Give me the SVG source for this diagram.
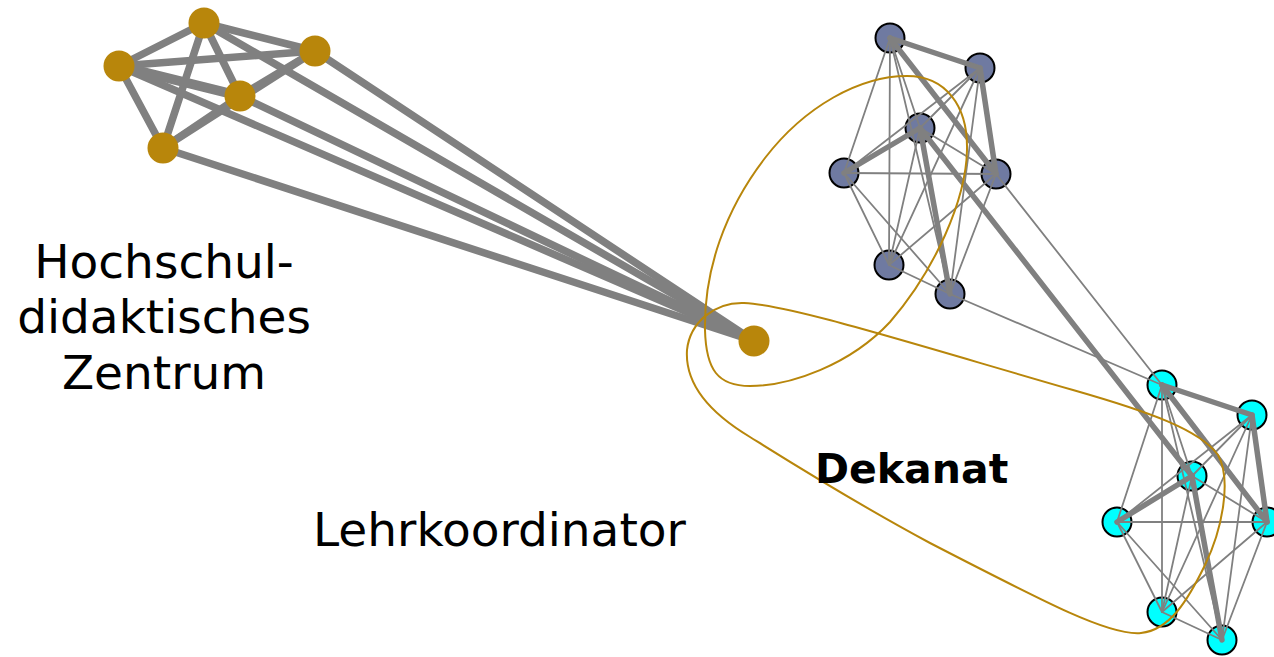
<svg xmlns="http://www.w3.org/2000/svg" width="1274" height="657" viewBox="0 0 1274 657">
<style>
.e{stroke:#808080;fill:none;stroke-linecap:round}
.g{stroke-width:7.5}
.gt{stroke-width:10}
.t{stroke-width:1.8}
.k{stroke-width:5.5}
.gold{fill:#B8860B}
.pur{fill:#6F7AA1;stroke:#000;stroke-width:2}
.cy{fill:#00FFFF;stroke:#000;stroke-width:2}
.hull{fill:none;stroke:#B8860B;stroke-width:2}
.lbl{font-family:"DejaVu Sans",sans-serif;fill:#000}
</style>
<rect width="1274" height="657" fill="#fff"/>
<g id="n-P1"><circle class="pur" cx="890" cy="38" r="14.5"/></g>
<g id="n-P2"><circle class="pur" cx="980" cy="68" r="14.5"/></g>
<g id="n-P3"><circle class="pur" cx="920" cy="128" r="14.5"/></g>
<g id="n-P4"><circle class="pur" cx="844" cy="173" r="14.5"/></g>
<g id="n-P5"><circle class="pur" cx="996" cy="174" r="14.5"/></g>
<g id="n-P6"><circle class="pur" cx="889" cy="265" r="14.5"/></g>
<g id="n-P7"><circle class="pur" cx="950" cy="294" r="14.5"/></g>
<g id="n-C1"><circle class="cy" cx="1162" cy="385" r="14.5"/></g>
<g id="n-C2"><circle class="cy" cx="1252" cy="415" r="14.5"/></g>
<g id="n-C3"><circle class="cy" cx="1192" cy="476" r="14.5"/></g>
<g id="n-C4"><circle class="cy" cx="1117" cy="522" r="14.5"/></g>
<g id="n-C5"><circle class="cy" cx="1267" cy="522" r="14.5"/></g>
<g id="n-C6"><circle class="cy" cx="1162" cy="612" r="14.5"/></g>
<g id="n-C7"><circle class="cy" cx="1222" cy="640" r="14.5"/></g>
<g id="connectors">
<g class="e g">
<line x1="204" y1="23" x2="119" y2="66"/>
<line x1="204" y1="23" x2="315" y2="51"/>
<line x1="204" y1="23" x2="240" y2="96"/>
<line x1="204" y1="23" x2="163" y2="148"/>
<line x1="119" y1="66" x2="315" y2="51"/>
<line x1="119" y1="66" x2="163" y2="148"/>
<line x1="315" y1="51" x2="240" y2="96"/>
<line x1="315" y1="51" x2="163" y2="148"/>
<line x1="240" y1="96" x2="163" y2="148"/>
<line x1="204" y1="23" x2="754" y2="341"/>
<line x1="119" y1="66" x2="754" y2="341"/>
<line x1="315" y1="51" x2="754" y2="341"/>
<line x1="240" y1="96" x2="754" y2="341"/>
<line x1="163" y1="148" x2="754" y2="341"/>
</g>
<line class="e gt" x1="119" y1="66" x2="240" y2="96"/>
<g class="e t">
<line x1="890" y1="38" x2="920" y2="128"/>
<line x1="890" y1="38" x2="844" y2="173"/>
<line x1="890" y1="38" x2="889" y2="265"/>
<line x1="890" y1="38" x2="950" y2="294"/>
<line x1="980" y1="68" x2="920" y2="128"/>
<line x1="980" y1="68" x2="844" y2="173"/>
<line x1="980" y1="68" x2="889" y2="265"/>
<line x1="980" y1="68" x2="950" y2="294"/>
<line x1="920" y1="128" x2="996" y2="174"/>
<line x1="920" y1="128" x2="889" y2="265"/>
<line x1="844" y1="173" x2="996" y2="174"/>
<line x1="844" y1="173" x2="889" y2="265"/>
<line x1="844" y1="173" x2="950" y2="294"/>
<line x1="996" y1="174" x2="889" y2="265"/>
<line x1="996" y1="174" x2="950" y2="294"/>
<line x1="889" y1="265" x2="950" y2="294"/>
<line x1="1162" y1="385" x2="1192" y2="476"/>
<line x1="1162" y1="385" x2="1117" y2="522"/>
<line x1="1162" y1="385" x2="1162" y2="612"/>
<line x1="1162" y1="385" x2="1222" y2="640"/>
<line x1="1252" y1="415" x2="1192" y2="476"/>
<line x1="1252" y1="415" x2="1117" y2="522"/>
<line x1="1252" y1="415" x2="1162" y2="612"/>
<line x1="1252" y1="415" x2="1222" y2="640"/>
<line x1="1192" y1="476" x2="1267" y2="522"/>
<line x1="1192" y1="476" x2="1162" y2="612"/>
<line x1="1117" y1="522" x2="1267" y2="522"/>
<line x1="1117" y1="522" x2="1162" y2="612"/>
<line x1="1117" y1="522" x2="1222" y2="640"/>
<line x1="1267" y1="522" x2="1162" y2="612"/>
<line x1="1267" y1="522" x2="1222" y2="640"/>
<line x1="1162" y1="612" x2="1222" y2="640"/>
<line x1="996" y1="174" x2="1162" y2="385"/>
<line x1="950" y1="294" x2="1162" y2="385"/>
</g>
<g class="e k">
<line x1="890" y1="38" x2="980" y2="68"/>
<line x1="980" y1="68" x2="996" y2="174"/>
<line x1="890" y1="38" x2="996" y2="174"/>
<line x1="844" y1="173" x2="920" y2="128"/>
<line x1="920" y1="128" x2="950" y2="294"/>
<line x1="1162" y1="385" x2="1252" y2="415"/>
<line x1="1252" y1="415" x2="1267" y2="522"/>
<line x1="1162" y1="385" x2="1267" y2="522"/>
<line x1="1117" y1="522" x2="1192" y2="476"/>
<line x1="1192" y1="476" x2="1222" y2="640"/>
<line x1="920" y1="128" x2="1192" y2="476"/>
</g>
</g>
<g id="n-A"><circle class="gold" cx="204" cy="23" r="15.5"/></g>
<g id="n-B"><circle class="gold" cx="119" cy="66" r="15.5"/></g>
<g id="n-C"><circle class="gold" cx="315" cy="51" r="15.5"/></g>
<g id="n-D"><circle class="gold" cx="240" cy="96" r="15.5"/></g>
<g id="n-E"><circle class="gold" cx="163" cy="148" r="15.5"/></g>
<g id="n-F"><circle class="gold" cx="754" cy="341" r="15.5"/></g>
<g id="hulls">
<path class="hull" d="M907,76 C945,76 968,105 967,150 C966,200 935,270 890,322 C850,365 790,386 750,386 C718,386 706,370 705,330 C704,270 725,210 765,158 C805,106 860,76 907,76 Z"/>
<path class="hull" d="M744,303 C790,305 900,340 1073,390 C1150,412 1200,430 1218,455 C1232,480 1222,530 1205,565 C1188,600 1170,630 1141,633 C1110,636 1050,605 930,543 C850,500 790,462 750,437 C705,410 685,380 687,350 C690,322 715,302 744,303 Z"/>
</g>
<g id="labels">
<text class="lbl" font-size="47" text-anchor="middle" x="164" y="278">Hochschul-</text>
<text class="lbl" font-size="47" text-anchor="middle" x="164" y="333">didaktisches</text>
<text class="lbl" font-size="47" text-anchor="middle" x="164" y="389">Zentrum</text>
<text class="lbl" font-size="47" x="313" y="546">Lehrkoordinator</text>
<text class="lbl" font-size="41" font-weight="bold" x="815" y="483">Dekanat</text>
</g>
</svg>
